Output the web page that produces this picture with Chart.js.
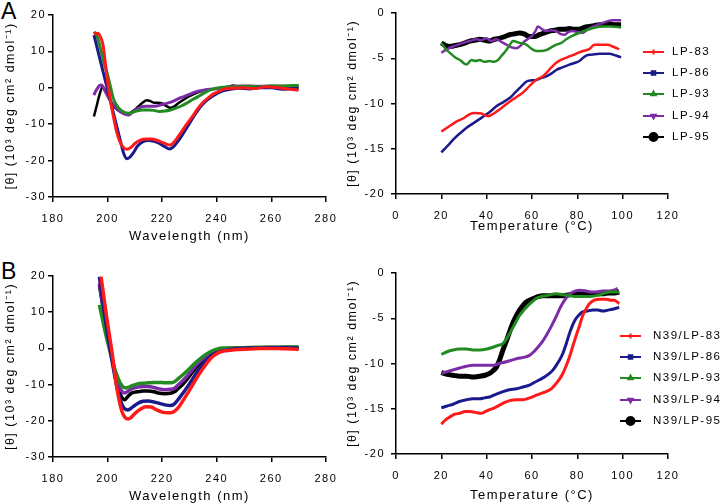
<!DOCTYPE html>
<html>
<head>
<meta charset="utf-8">
<script src="https://cdn.jsdelivr.net/npm/chart.js@4.4.1/dist/chart.umd.min.js"></script>
<style>
body { margin: 0; background: #fff; width: 720px; height: 504px; position: relative; overflow: hidden; font-family: 'Liberation Sans', Arial, sans-serif; }
canvas { position: absolute; }
.lbl { position: absolute; font-size: 23px; line-height: 1; color: #000; }
</style>
</head>
<body>
<div class="lbl" style="left:1px;top:0px">A</div>
<div class="lbl" style="left:1px;top:260px">B</div>
<canvas id="cdA"></canvas>
<canvas id="meltA"></canvas>
<canvas id="cdB"></canvas>
<canvas id="meltB"></canvas>
<script>
// series names
const namesA = ['LP-83', 'LP-86', 'LP-93', 'LP-94', 'LP-95'];
const namesB = ['N39/LP-83', 'N39/LP-86', 'N39/LP-93', 'N39/LP-94', 'N39/LP-95'];

// axis ranges [min, max, step]
const wlRange = [180, 280, 20];
const cdRange = [-30, 20, 10];
const tRange = [0, 120, 20];
const meltRange = [-20, 0, 5];

// A: CD spectra, [wavelength nm, theta]
const cdA_83 = [[195,14.8],[196.4,15],[197.5,13.8],[198.4,11.5],[199.3,6],[200.3,0],[201.3,-4.5],[202.3,-8.5],[203.3,-12],[204.5,-14.8],[205.7,-16.3],[207,-16.9],[208.5,-16.4],[210,-15.3],[212,-14.4],[214,-14.1],[216,-14.1],[218,-14.4],[220,-15],[222,-15.6],[223,-15.7],[225,-14.3],[227,-12.2],[229,-10],[231,-8],[233,-5.8],[235,-4],[237,-2.7],[239,-1.6],[241,-0.9],[243,-0.3],[246,-0.1],[250,0],[254,-0.2],[258,0.3],[262,0.1],[266,-0.3],[270,-0.6]];
const cdA_86 = [[195,14.5],[196,11.5],[197,8.5],[198,5.5],[199,2.5],[200,-0.5],[201,-3.5],[202,-6.5],[203,-9.5],[204,-12.5],[205,-15.5],[206,-18.2],[207,-19.5],[208,-19.2],[209.5,-17.8],[211,-16],[213,-14.8],[215,-14.5],[217,-14.7],[219,-15.3],[221,-16.2],[222.7,-16.8],[224,-16.3],[226,-14.5],[228,-12.2],[230,-9.8],[232,-7.4],[234,-5.3],[236,-3.7],[238,-2.5],[240,-1.6],[242,-0.9],[245,-0.4],[248,-0.1],[252,-0.3],[256,0],[260,0],[264,-0.4],[268,-0.2],[270,-0.4]];
const cdA_93 = [[195,15.4],[196,14.5],[197,12],[198,9],[199,6],[199.7,4.4],[201,0.5],[202.1,-2.9],[203.5,-5],[205,-6.2],[207.6,-7],[209,-6.8],[211,-6.3],[213,-6.1],[215,-6.1],[217,-6.2],[219,-6.5],[221,-6.4],[223,-6.1],[225,-5.6],[227,-5],[229,-4.2],[231,-3.3],[233,-2.5],[235,-1.6],[237,-0.8],[239,-0.3],[241,0],[244,0.2],[248,0.3],[252,0.4],[256,0.3],[260,0.5],[264,0.5],[268,0.6],[270,0.6]];
const cdA_94 = [[195,-2],[196,-0.5],[197,0.6],[197.8,0.8],[199,-0.8],[200,-2.2],[201,-3.5],[202.1,-4.7],[203.5,-5.8],[205,-6.7],[206.5,-7.3],[207.6,-7.5],[209,-6.8],[210.5,-6],[212,-5.4],[214,-5.1],[216,-5.1],[218,-5],[220,-4.6],[222,-4.2],[224,-3.7],[226,-3],[228,-2.4],[230,-1.8],[232,-1.2],[234,-0.8],[236,-0.5],[238,-0.4],[241,-0.2],[244,0.2],[248,0.5],[252,0.5],[256,0.4],[260,0.5],[264,0.4],[268,0.5],[270,0.5]];
const cdA_95 = [[195,-7.9],[196,-5],[197,-2],[198.2,0.3],[199,-0.5],[200,-2],[201,-3.5],[202,-4.8],[203.5,-6],[205,-6.7],[207,-7.1],[208.5,-6.8],[210,-6],[211.5,-5],[213,-4],[214.3,-3.4],[215.5,-3.6],[217,-4.1],[218.5,-4.1],[220,-4.3],[221.5,-5],[223,-5.5],[224.5,-5.1],[226,-4.2],[228,-3.2],[230,-2.3],[232,-1.6],[234,-1],[236,-0.6],[238,-0.4],[241,-0.1],[244,0.2],[246,0.6],[248,0.3],[250,0.1],[254,0.2],[258,0.3],[262,0.2],[266,0.3],[270,0.3]];

// A: thermal melts, [temperature C, theta]
const meltA_83 = [[20,-13.1],[23,-12.6],[26.6,-12],[30,-11.6],[32.4,-11.2],[34.7,-11.05],[37.7,-11.1],[40.6,-11.4],[42.5,-11.2],[44.3,-10.9],[47,-10.4],[50.1,-9.8],[53,-9.3],[56,-8.8],[58,-8.3],[60.4,-7.7],[62.5,-7.3],[64.8,-7],[67.5,-6.3],[70.7,-5.5],[73.5,-5.1],[76.5,-4.8],[79.5,-4.5],[82.4,-4.2],[85.3,-4],[87.5,-3.5],[91.2,-3.5],[93.5,-3.5],[95.6,-3.7],[98.5,-4]];
const meltA_86 = [[20,-15.4],[21.9,-14.9],[23.8,-14.4],[26,-13.8],[28.2,-13.3],[31,-12.7],[34,-12.2],[37,-11.7],[39.9,-11.2],[42,-10.8],[44.3,-10.3],[47,-9.9],[50.1,-9.4],[52.5,-8.8],[54.5,-8.3],[56.5,-7.8],[58.2,-7.5],[61.9,-7.4],[64,-7.2],[66.3,-7],[68.5,-6.7],[70.7,-6.3],[73.5,-6],[76.5,-5.7],[79,-5.5],[80.9,-5.3],[83.9,-4.7],[86.5,-4.6],[89.7,-4.5],[94.1,-4.5],[97,-4.7],[99.3,-4.9]];
const meltA_93 = [[20,-3.3],[22,-4],[23.8,-4.4],[26,-4.9],[28.2,-5.2],[31.1,-5.7],[33.3,-5.2],[35,-5.3],[37,-5.2],[39,-5.4],[41.3,-5.3],[43,-5.4],[45,-5.2],[47,-4.6],[48.7,-4.1],[50.5,-3.4],[51.6,-3.1],[54.5,-3.3],[57.5,-3.5],[59.5,-3.9],[61.9,-4.2],[64,-4.2],[66.3,-4.1],[68.5,-3.8],[70.7,-3.5],[73,-3.3],[75.1,-2.9],[78,-2.5],[80.9,-2.2],[85.3,-1.8],[88,-1.6],[91.2,-1.5],[95,-1.5],[99.3,-1.6]];
const meltA_94 = [[20,-4.4],[22.5,-4],[25.2,-3.7],[27.5,-3.5],[29.6,-3.3],[32.5,-3.1],[35.5,-2.9],[37.5,-3],[39.9,-2.8],[42,-3.1],[44.3,-2.9],[46.5,-3.2],[48.7,-3.5],[51,-3.8],[53.1,-3.9],[55,-3.6],[56,-3.3],[58,-2.9],[59.7,-2.6],[61.5,-2],[62.6,-1.5],[64.5,-1.8],[66.3,-2],[68.5,-1.9],[70.7,-2],[72.5,-2.3],[74.4,-2.4],[76,-2.1],[78,-2],[80,-2.1],[82.4,-2.2],[84.5,-1.8],[86.8,-1.5],[89,-1.3],[91.2,-1.1],[93.5,-0.9],[95.6,-0.8],[99.3,-0.8]];
const meltA_95 = [[20,-3.3],[22,-3.6],[23.8,-3.7],[26,-3.6],[28.2,-3.5],[30.5,-3.3],[32.6,-3.1],[35,-3],[37,-2.9],[39,-3],[41.3,-3.1],[43.5,-2.9],[45.7,-2.8],[48,-2.6],[50.1,-2.4],[52.5,-2.3],[54.5,-2.2],[56.5,-2.3],[58.9,-2.6],[61,-2.6],[63.3,-2.4],[65.5,-2.2],[67.7,-2],[70,-1.9],[72.1,-1.8],[74.5,-1.8],[76.5,-1.7],[78.5,-1.8],[80.9,-1.8],[83,-1.6],[85.3,-1.5],[87.5,-1.4],[89.7,-1.3],[92,-1.3],[94.1,-1.2],[96.5,-1.3],[99.3,-1.3]];

// B: CD spectra
const cdB_83 = [[197.6,19.8],[198.5,15],[199.5,9.5],[200.5,4.5],[201.5,-0.4],[202.5,-6],[203.3,-10.5],[204.3,-14.5],[205.3,-17.5],[206.5,-19.2],[207.5,-19.5],[208.5,-19.2],[210,-18],[212,-16.8],[214,-16.1],[216,-16.2],[218,-17],[220,-17.6],[222,-17.8],[224,-17.6],[226,-16.3],[228,-14],[230,-11.6],[232,-9],[234,-6.6],[236,-4.5],[238,-2.6],[240,-1.5],[242,-0.8],[245,-0.5],[248,-0.3],[252,-0.2],[256,0],[260,0],[264,-0.1],[268,-0.2],[270,-0.3]];
const cdB_86 = [[197,19.8],[198,14.5],[199,9],[200,4],[201,-0.5],[202,-5],[203,-9],[204,-12.5],[205,-15],[206,-16.5],[207.4,-17],[209,-16.3],[211,-15.2],[213,-14.6],[215,-14.5],[217,-14.8],[219,-15.2],[221,-15.6],[223,-15.8],[224.5,-15.3],[226,-14],[228,-12],[230,-9.8],[232,-7.5],[234,-5.3],[236,-3.5],[238,-2],[240,-1.2],[242,-0.7],[245,-0.3],[248,0],[252,0.1],[256,0.1],[260,0.2],[264,0.2],[268,0.1],[270,0.1]];
const cdB_93 = [[197,12],[198,8.5],[199,5],[200,1.8],[201,-1.2],[202,-4],[203,-6.5],[204,-8.5],[205,-10],[206.3,-10.9],[207.5,-10.8],[209,-10.3],[211,-9.8],[213,-9.6],[215,-9.5],[217,-9.4],[219,-9.4],[221,-9.5],[223,-9.5],[224.5,-9.2],[226,-8.3],[228,-7],[230,-5.6],[232,-4.1],[234,-2.8],[236,-1.7],[238,-0.8],[240,-0.2],[242,0.1],[245,0.1],[250,0.2],[255,0.3],[260,0.3],[265,0.4],[270,0.4]];
const cdB_94 = [[197,18],[198,13.2],[199,8.5],[200,4],[201,0],[202,-4],[203,-7.3],[204,-10],[205,-11.6],[206.3,-12.3],[207.5,-11.8],[209,-11.1],[211,-10.7],[213,-10.5],[215,-10.5],[217,-10.8],[219,-11.2],[221,-11.4],[223,-11.3],[224.5,-11],[226,-10],[228,-8.6],[230,-6.9],[232,-5],[234,-3.5],[236,-2.2],[238,-1.2],[240,-0.5],[243,-0.1],[246,0.1],[250,0.2],[255,0.2],[260,0.3],[265,0.3],[270,0.3]];
const cdB_95 = [[197,17.5],[198,13],[199,8.5],[200,4],[201,0],[202,-4],[203,-7.8],[204,-11],[205,-13.2],[206.3,-14.2],[207.5,-13.2],[209,-12.3],[211,-12],[213,-11.8],[215,-11.8],[217,-12],[219,-12.4],[221,-12.5],[223,-12.4],[224.5,-12],[226,-11],[228,-9.6],[230,-7.7],[232,-5.7],[234,-4],[236,-2.6],[238,-1.5],[240,-0.7],[243,-0.2],[246,0],[250,0.1],[255,0.2],[260,0.2],[265,0.2],[270,0.1]];

// B: thermal melts
const meltB_83 = [[20,-16.7],[22,-16.2],[23.8,-15.9],[26,-15.6],[28.2,-15.5],[30.5,-15.3],[32.6,-15.3],[35,-15.4],[37.7,-15.5],[39.5,-15.3],[41.3,-15.1],[43.5,-14.9],[45.7,-14.6],[48,-14.3],[50.1,-14.1],[53,-14],[56,-14],[59,-13.8],[61.9,-13.5],[64,-13.3],[66.3,-13.1],[68.5,-12.8],[70.7,-12.2],[72.2,-11.7],[73.6,-11.1],[75,-10.3],[76.5,-9.3],[78,-8.1],[79.5,-6.9],[81,-5.8],[82.4,-4.7],[83.8,-4],[85.3,-3.4],[87.5,-3],[90,-2.9],[92.7,-2.9],[95,-3],[96.3,-3],[98.5,-3.4]];
const meltB_86 = [[20,-14.9],[22.5,-14.7],[25.2,-14.5],[28,-14.2],[31.1,-14],[34,-13.9],[37,-13.9],[39,-13.8],[41.3,-13.7],[44,-13.4],[47.2,-13.1],[50,-12.9],[53.1,-12.8],[56,-12.6],[58.9,-12.4],[61,-12.1],[63.3,-11.8],[65.5,-11.5],[67.7,-11.1],[69.3,-10.7],[70.7,-10.2],[72.2,-9.6],[73.6,-8.9],[75,-7.9],[76.5,-6.7],[78,-5.7],[79.5,-5],[80.9,-4.6],[82.4,-4.3],[84.5,-4.2],[86.8,-4.1],[89,-4.1],[91.2,-4.2],[93.5,-4.1],[95.6,-4],[98.5,-3.8]];
const meltB_93 = [[20,-9],[22.5,-8.7],[25.2,-8.5],[28,-8.4],[31.1,-8.4],[34,-8.5],[37,-8.5],[40,-8.4],[42.8,-8.2],[45,-8],[47.2,-7.8],[48.7,-7.3],[50.1,-6.7],[52.3,-5.7],[54.5,-4.7],[56.4,-4.1],[58.2,-3.6],[60,-3.2],[61.9,-2.8],[64,-2.6],[66.3,-2.5],[70.7,-2.3],[73.5,-2.4],[76.5,-2.5],[79.5,-2.6],[82.4,-2.6],[85.3,-2.6],[88.3,-2.5],[91.2,-2.3],[94.1,-2.1],[96.5,-2.1],[98.5,-2.1]];
const meltB_94 = [[20,-11.1],[22.5,-10.9],[25.2,-10.7],[28,-10.5],[31.1,-10.3],[34,-10.2],[37,-10.2],[40,-10.2],[42.8,-10.2],[45.5,-10],[48.7,-9.8],[51.5,-9.6],[54.5,-9.4],[56.8,-9.3],[58.9,-9.1],[60.8,-8.7],[62.6,-8.2],[64.5,-7.6],[66.3,-6.9],[68.5,-5.9],[70.7,-4.8],[72.5,-3.8],[74.4,-3],[76.2,-2.4],[78,-2.1],[80.9,-1.9],[83.9,-2],[86,-2.1],[88.3,-2.1],[91,-2],[94.1,-2],[96,-1.9],[97.8,-1.7]];
const meltB_95 = [[20,-11],[22.5,-11.2],[25.2,-11.3],[28,-11.4],[31.1,-11.4],[34,-11.5],[37,-11.4],[39.3,-11.3],[41.3,-11.1],[42.8,-10.8],[44.3,-10.4],[45.7,-9.6],[47.2,-8.5],[48.7,-7.5],[50.1,-6.5],[51.6,-5.5],[53.1,-4.7],[54.5,-4.1],[56,-3.6],[57.5,-3.2],[58.9,-3],[60.8,-2.8],[62.6,-2.6],[65,-2.5],[67.7,-2.5],[70.5,-2.5],[73.6,-2.5],[76.5,-2.4],[79.5,-2.3],[82.4,-2.3],[85.3,-2.3],[88,-2.3],[91.2,-2.3],[94,-2.2],[96.5,-2.2],[98.5,-2.1]];

const seriesColors = ['#ff1a1a', '#1a1a8c', '#228b22', '#7b2ca6', '#000000'];
const markers = ['cross', 'rect', 'triangle', 'triangle', 'circle'];
const markerRot = [0, 0, 0, 180, 0];
const FONT = "'Liberation Sans', Arial, sans-serif";
const yTitle = '[\u03b8] (10\u00b3 deg cm\u00b2 dmol\u207b\u00b9)';

// GraphPad style spaced lettering
const spacing = {
    id: 'spacing',
    beforeDraw(c) { c.ctx.letterSpacing = '1.5px'; }
};

// legend drawn as line + marker + label
const miniLegend = {
    id: 'miniLegend',
    afterDraw(c, args, o) {
        if (!o.ys) return;
        const ctx = c.ctx;
        ctx.save();
        c.data.datasets.forEach((d, i) => {
            const y = o.ys[i];
            ctx.strokeStyle = d.borderColor;
            ctx.fillStyle = d.borderColor;
            ctx.lineWidth = 2;
            ctx.beginPath(); ctx.moveTo(o.x0, y); ctx.lineTo(o.x1, y); ctx.stroke();
            Chart.helpers.drawPoint(ctx, {
                pointStyle: markers[i], rotation: markerRot[i],
                radius: i === 4 ? 4 : 2.5, borderWidth: 1.5
            }, (o.x0 + o.x1) / 2, y);
            ctx.fillStyle = '#000';
            ctx.font = '11.5px ' + FONT;
            ctx.letterSpacing = '1.5px';
            ctx.textAlign = 'left';
            ctx.textBaseline = 'middle';
            ctx.fillText(d.label, o.xt, y);
        });
        ctx.restore();
    }
};

function makeChart(id, box, area, xr, yr, sets, names, xTitle, o) {
    const cv = document.getElementById(id);
    cv.width = box[2]; cv.height = box[3];
    cv.style.left = box[0] + 'px'; cv.style.top = box[1] + 'px';
    const bottom = box[1] + box[3];
    let legend = {};
    if (o.legend) {
        legend = {
            x0: o.legend.x0 - box[0], x1: o.legend.x1 - box[0], xt: o.legend.xt - box[0],
            ys: o.legend.ys.map(v => v - box[1])
        };
    }
    return new Chart(cv, {
        type: 'line',
        data: {
            datasets: sets.map((pts, i) => ({
                label: names[i],
                data: pts.map(p => ({ x: p[0], y: p[1] })),
                borderColor: seriesColors[i],
                backgroundColor: seriesColors[i],
                borderWidth: i === 4 ? o.blackW : o.lineW,
                pointRadius: 0,
                cubicInterpolationMode: 'monotone',
                fill: false
            }))
        },
        options: {
            responsive: false,
            animation: false,
            events: [],
            layout: { padding: { left: 0, top: area[2] - box[1], right: box[0] + box[2] - area[1], bottom: 0 } },
            plugins: { legend: { display: false }, tooltip: { enabled: false }, miniLegend: legend },
            scales: {
                x: {
                    type: 'linear', min: xr[0], max: xr[1],
                    ticks: { stepSize: xr[2], color: '#000', font: { size: 11, family: FONT }, padding: 10 },
                    grid: { drawOnChartArea: false, color: '#000', lineWidth: 1.5, tickLength: 5 },
                    border: { color: '#000', width: 1.5 },
                    title: {
                        display: true, text: xTitle, color: '#000', font: { size: 13, family: FONT },
                        padding: { top: 0, bottom: Math.max(0, bottom - (area[3] + o.xTitleOff) - 7.8) }
                    },
                    afterFit(s) { s.height = bottom - area[3]; }
                },
                y: {
                    min: yr[0], max: yr[1],
                    ticks: { stepSize: yr[2], color: '#000', font: { size: 11, family: FONT }, padding: o.yPad },
                    grid: { drawOnChartArea: false, color: '#000', lineWidth: 1.5, tickLength: 5 },
                    border: { color: '#000', width: 1.5 },
                    title: {
                        display: true, text: yTitle, color: '#000', font: { size: 12.5, family: FONT },
                        padding: { top: o.yTitleX - box[0] - 7.5, bottom: 0 }
                    },
                    afterFit(s) { s.width = area[0] - box[0]; }
                }
            }
        },
        plugins: [spacing, miniLegend]
    });
}

makeChart('cdA', [0, 0, 345, 250], [53, 326, 15, 197], wlRange, cdRange,
    [cdA_83, cdA_86, cdA_93, cdA_94, cdA_95], namesA, 'Wavelength (nm)',
    { lineW: 3, blackW: 2.5, xTitleOff: 39, yTitleX: 11, yPad: 2 });

makeChart('meltA', [340, 0, 380, 250], [396, 668, 13, 194], tRange, meltRange,
    [meltA_83, meltA_86, meltA_93, meltA_94, meltA_95], namesA, 'Temperature (\u00b0C)',
    { lineW: 2.5, blackW: 5, xTitleOff: 32, yTitleX: 353, yPad: 6,
      legend: { x0: 643, x1: 664, xt: 672, ys: [52, 73, 94, 116, 137] } });

makeChart('cdB', [0, 250, 345, 254], [53, 326, 276, 457], wlRange, cdRange,
    [cdB_83, cdB_86, cdB_93, cdB_94, cdB_95], namesB, 'Wavelength (nm)',
    { lineW: 3.5, blackW: 3.5, xTitleOff: 39, yTitleX: 11, yPad: 2 });

makeChart('meltB', [340, 250, 380, 254], [396, 668, 273, 454], tRange, meltRange,
    [meltB_83, meltB_86, meltB_93, meltB_94, meltB_95], namesB, 'Temperature (\u00b0C)',
    { lineW: 3, blackW: 5, xTitleOff: 41, yTitleX: 353, yPad: 6,
      legend: { x0: 620, x1: 641, xt: 653, ys: [336, 357, 378, 400, 421] } });
</script>
</body>
</html>
